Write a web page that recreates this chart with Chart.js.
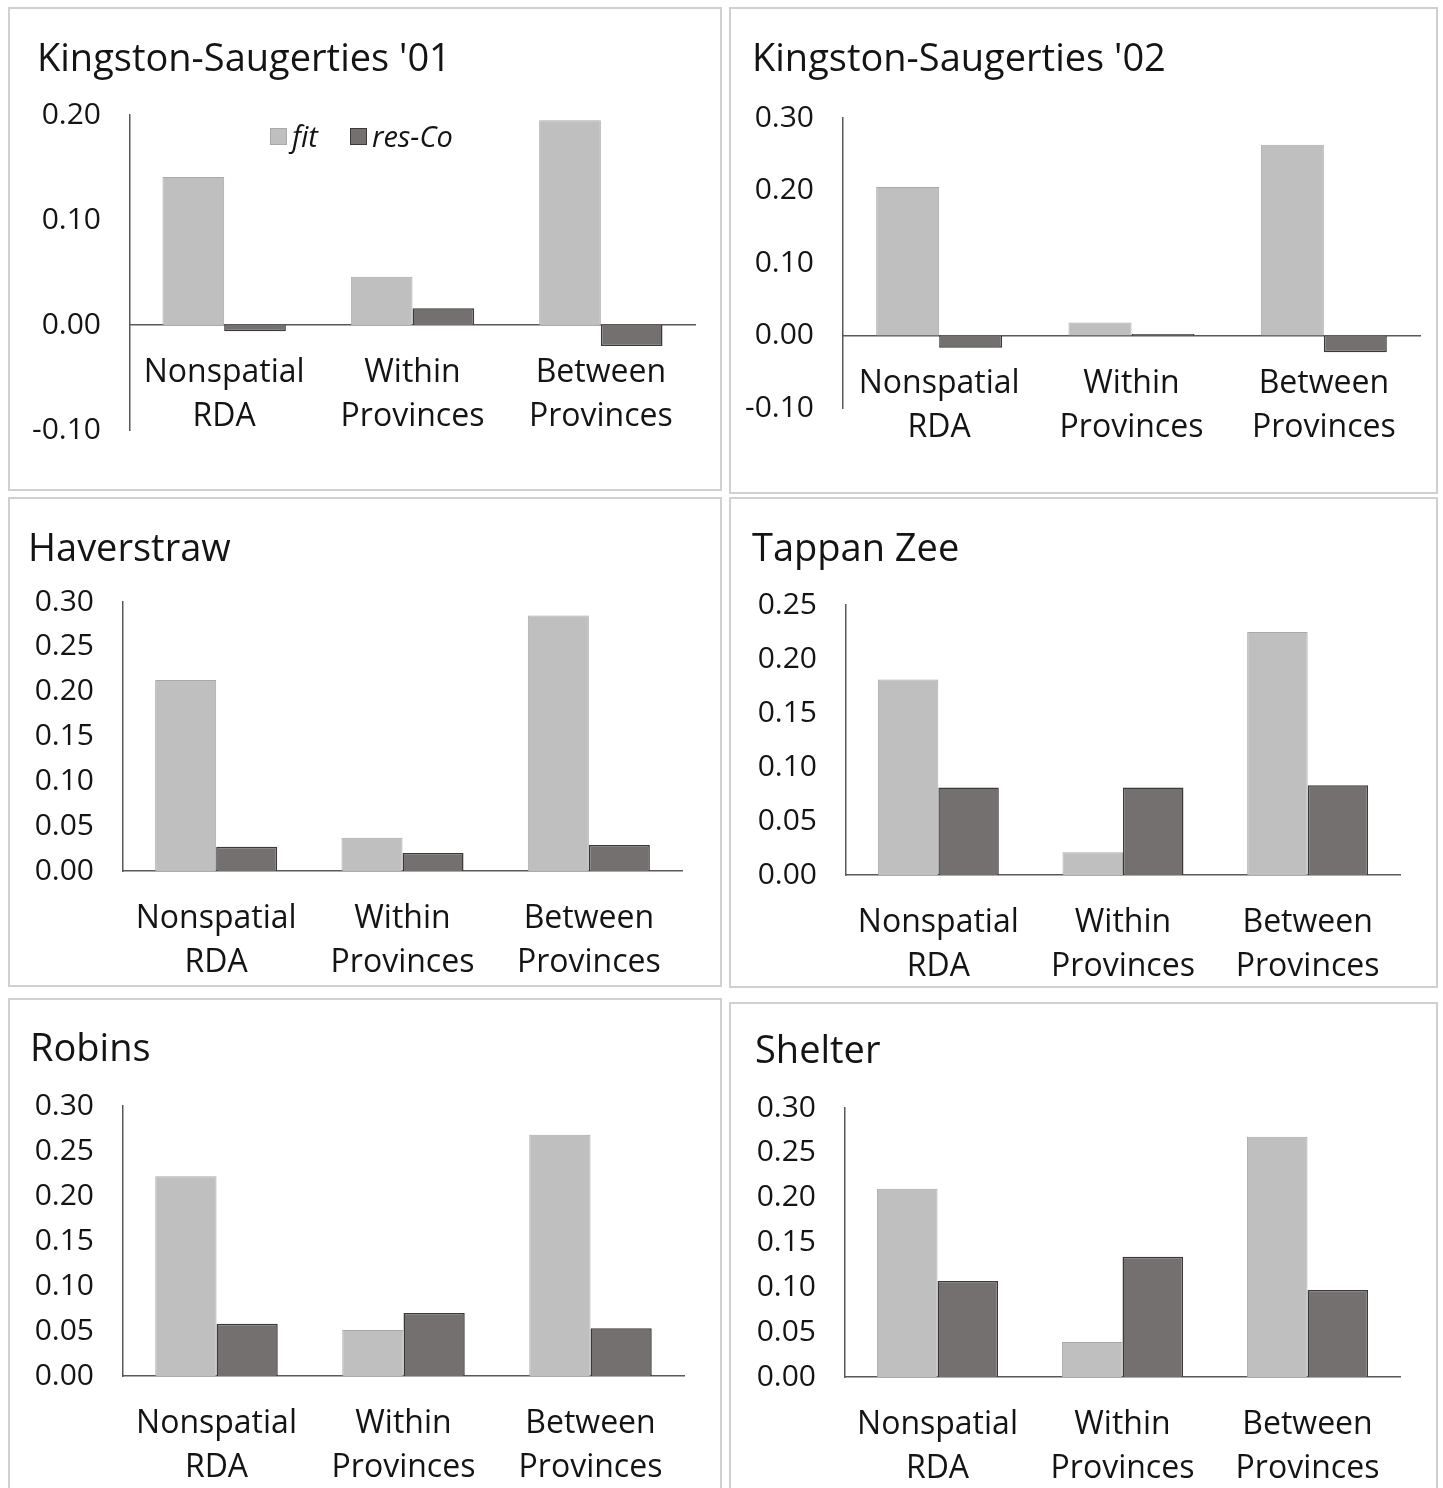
<!DOCTYPE html>
<html>
<head>
<meta charset="utf-8">
<title>Variation partitioning by site</title>
<script src="https://cdn.jsdelivr.net/npm/chart.js@4.4.1/dist/chart.umd.min.js"></script>
<style>
  html, body { margin: 0; padding: 0; background: #ffffff; }
  body { width: 1443px; height: 1488px; position: relative; overflow: hidden; }
  .panel { position: absolute; box-sizing: border-box; border: 2px solid #d0d0d0; background: #ffffff; }
  .panel canvas { position: absolute; left: 0; top: 0; }
  .legend { position: absolute; display: flex; align-items: center; font-family: "Open Sans", sans-serif;
            font-style: italic; font-size: 29px; line-height: 34px; color: #141414; white-space: nowrap; }
  .legend .item { display: flex; align-items: center; margin-right: 32px; }
  .legend .sw { display: inline-block; width: 17px; height: 17px; margin-right: 5px; box-sizing: border-box; }
</style>
</head>
<body>
<script>
// ---- data ----
const categories = [["Nonspatial", "RDA"], ["Within", "Provinces"], ["Between", "Provinces"]];
const seriesNames = ["fit", "res-Co"];
const sites = ["Kingston-Saugerties '01", "Kingston-Saugerties '02", "Haverstraw", "Tappan Zee", "Robins", "Shelter"];

const fitKS01 = [0.141, 0.046, 0.195];
const resKS01 = [-0.006, 0.016, -0.020];
const fitKS02 = [0.205, 0.018, 0.263];
const resKS02 = [-0.017, 0.002, -0.023];
const fitHaverstraw = [0.213, 0.037, 0.285];
const resHaverstraw = [0.027, 0.020, 0.029];
const fitTappanZee = [0.181, 0.021, 0.225];
const resTappanZee = [0.081, 0.081, 0.083];
const fitRobins = [0.222, 0.051, 0.268];
const resRobins = [0.058, 0.070, 0.053];
const fitShelter = [0.210, 0.039, 0.268];
const resShelter = [0.107, 0.134, 0.097];

const fitValues = [fitKS01, fitKS02, fitHaverstraw, fitTappanZee, fitRobins, fitShelter];
const resValues = [resKS01, resKS02, resHaverstraw, resTappanZee, resRobins, resShelter];

// value-axis ranges (tick labels follow from min/max/step)
const yMin  = [-0.10, -0.10, 0.00, 0.00, 0.00, 0.00];
const yMax  = [0.20, 0.30, 0.30, 0.25, 0.30, 0.30];
const yStep = [0.10, 0.10, 0.05, 0.05, 0.05, 0.05];

// ---- page layout (pixels) ----
const frames = [
  { x: 8,   y: 7,   w: 714, h: 484, area: { l: 130, r: 695,  t: 115,  b: 430 },  titleX: 37,  titleY: 58 },
  { x: 729, y: 7,   w: 709, h: 487, area: { l: 843, r: 1420, t: 118,  b: 408 },  titleX: 752, titleY: 58 },
  { x: 8,   y: 497, w: 714, h: 490, area: { l: 123, r: 682,  t: 602,  b: 871 },  titleX: 28,  titleY: 548 },
  { x: 729, y: 497, w: 709, h: 491, area: { l: 846, r: 1400, t: 605,  b: 875 },  titleX: 752, titleY: 548 },
  { x: 8,   y: 998, w: 714, h: 500, area: { l: 123, r: 684,  t: 1106, b: 1376 }, titleX: 30,  titleY: 1048 },
  { x: 729, y: 1002, w: 709, h: 496, area: { l: 845, r: 1400, t: 1108, b: 1377 }, titleX: 755, titleY: 1050 }
];

const BORDER = 2;
const TITLE_SIZE = 38;
const TITLE_SHIFT = 2;
const TICK_SIZE = 30;
const CAT_SIZE = 32;
const CAT_LINE = 44;
const TEXT = '#141414';
const AXIS = '#595959';
const FIT_FILL = '#bfbfbf', FIT_EDGE = '#a9a9a9';
const RES_FILL = '#757070', RES_EDGE = '#3a3a3a';

Chart.defaults.font.family = "'Open Sans', sans-serif";
Chart.defaults.color = TEXT;
Chart.defaults.animation = false;

// The value axis has a fixed width so the plot lines up across panels;
// let its tick labels (e.g. "-0.10") run past that box instead of being clipped.
const wideTickLabels = {
  id: 'wideTickLabels',
  afterLayout(chart) {
    const y = chart.scales.y;
    y.left = 0;
  }
};

function buildLegend(chart, host, left, top) {
  const items = chart.options.plugins.legend.labels.generateLabels(chart);
  const box = document.createElement('div');
  box.className = 'legend';
  box.style.left = left + 'px';
  box.style.top = top + 'px';
  items.forEach((it) => {
    const item = document.createElement('span');
    item.className = 'item';
    const sw = document.createElement('span');
    sw.className = 'sw';
    sw.style.background = it.fillStyle;
    sw.style.border = '1px solid ' + it.strokeStyle;
    const tx = document.createElement('span');
    tx.textContent = it.text;
    item.appendChild(sw);
    item.appendChild(tx);
    box.appendChild(item);
  });
  host.appendChild(box);
}

function makePanel(i) {
  const F = frames[i];
  const ox = F.x + BORDER, oy = F.y + BORDER;
  const cw = F.w - 2 * BORDER, ch = F.h - 2 * BORDER;

  const div = document.createElement('div');
  div.className = 'panel';
  Object.assign(div.style, { left: F.x + 'px', top: F.y + 'px', width: F.w + 'px', height: F.h + 'px' });
  const canvas = document.createElement('canvas');
  canvas.width = cw; canvas.height = ch;
  canvas.style.width = cw + 'px'; canvas.style.height = ch + 'px';
  div.appendChild(canvas);
  document.body.appendChild(div);

  const padLeft = F.titleX - ox;
  const yAxisWidth = F.area.l - ox - padLeft;
  const padRight = cw - (F.area.r - ox);
  const titleLine = TITLE_SIZE * 1.2;
  const titlePadTop = F.titleY + TITLE_SHIFT - oy - titleLine / 2;
  const titlePadBottom = (F.area.t - oy) - titlePadTop - titleLine;
  const bottomSpace = ch - (F.area.b - oy);
  const crossesZero = yMin[i] < 0;

  const xScale = {
    type: 'category',
    offset: true,
    grid: { display: false, drawTicks: false },
    border: { display: true, color: AXIS, width: 1.5 },
    ticks: {
      color: TEXT,
      padding: 48 - CAT_LINE / 2,
      maxRotation: 0, minRotation: 0, autoSkip: false,
      font: { size: CAT_SIZE, lineHeight: CAT_LINE / CAT_SIZE }
    }
  };
  if (crossesZero) {
    xScale.position = { y: 0 };
  } else {
    xScale.position = 'bottom';
    xScale.afterFit = (s) => { s.height = bottomSpace; };
  }

  const chart = new Chart(canvas, {
    type: 'bar',
    plugins: [wideTickLabels],
    data: {
      labels: categories,
      datasets: [
        { label: seriesNames[0], data: fitValues[i], backgroundColor: FIT_FILL, borderColor: FIT_EDGE, borderWidth: 1 },
        { label: seriesNames[1], data: resValues[i], backgroundColor: RES_FILL, borderColor: RES_EDGE, borderWidth: 1.5 }
      ]
    },
    options: {
      responsive: false,
      animation: false,
      categoryPercentage: 0.655,
      barPercentage: 1.0,
      layout: { padding: { left: padLeft, right: padRight, top: 0, bottom: crossesZero ? bottomSpace : 0 } },
      plugins: {
        legend: { display: false },
        tooltip: { enabled: false },
        title: {
          display: true,
          text: sites[i],
          align: 'start',
          color: TEXT,
          font: { size: TITLE_SIZE, weight: 'normal', lineHeight: 1.2 },
          padding: { top: titlePadTop, bottom: titlePadBottom }
        }
      },
      scales: {
        x: xScale,
        y: {
          position: 'left',
          min: yMin[i],
          max: yMax[i],
          grid: { display: false, drawTicks: false },
          border: { display: true, color: AXIS, width: 1.5 },
          ticks: {
            stepSize: yStep[i],
            padding: 29,
            color: TEXT,
            font: { size: TICK_SIZE },
            callback: (v) => Number(v).toFixed(2)
          },
          afterFit: (s) => { s.width = yAxisWidth; }
        }
      }
    }
  });

  if (i === 0) {
    buildLegend(chart, div, 270 - ox, 136 - oy - 17);
  }
  return chart;
}

sites.forEach((_, i) => makePanel(i));
</script>
</body>
</html>
